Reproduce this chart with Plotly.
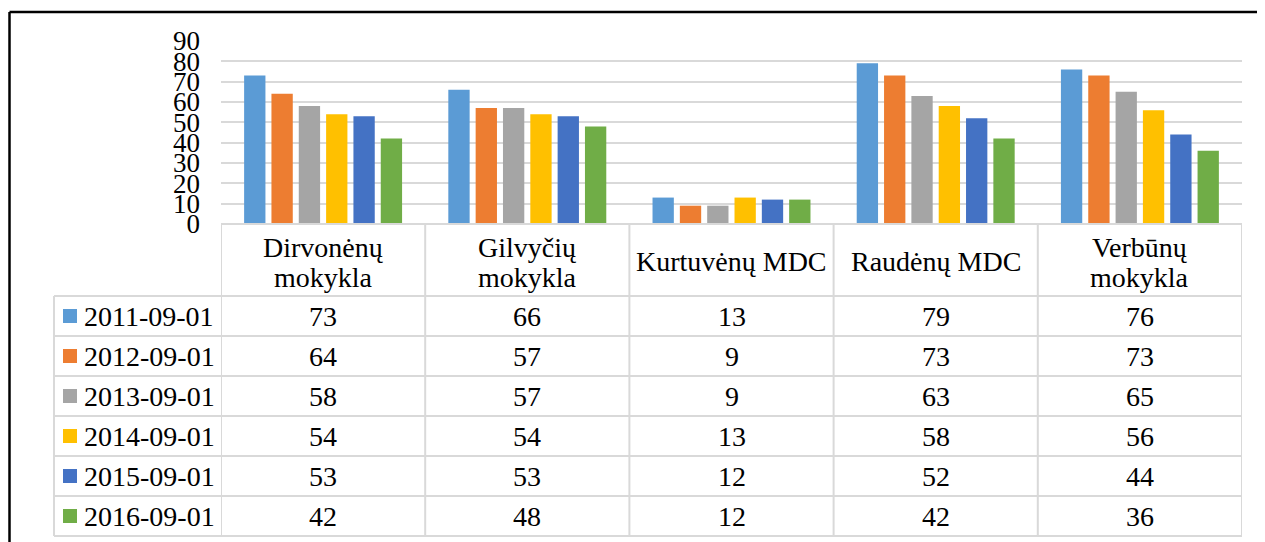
import plotly.graph_objects as go

W, H = 1265, 542

categories = ["Dirvonėnų mokykla", "Gilvyčių mokykla", "Kurtuvėnų MDC", "Raudėnų MDC", "Verbūnų mokykla"]
header_labels = ["Dirvonėnų<br>mokykla", "Gilvyčių<br>mokykla", "Kurtuvėnų MDC", "Raudėnų MDC", "Verbūnų<br>mokykla"]
series_names = ["2011-09-01", "2012-09-01", "2013-09-01", "2014-09-01", "2015-09-01", "2016-09-01"]
v2011 = [73, 66, 13, 79, 76]
v2012 = [64, 57, 9, 73, 73]
v2013 = [58, 57, 9, 63, 65]
v2014 = [54, 54, 13, 58, 56]
v2015 = [53, 53, 12, 52, 44]
v2016 = [42, 48, 12, 42, 36]
series_values = [v2011, v2012, v2013, v2014, v2015, v2016]
colors = ["#5B9BD5", "#ED7D31", "#A5A5A5", "#FFC000", "#4472C4", "#70AD47"]
y_ticks = [0, 10, 20, 30, 40, 50, 60, 70, 80, 90]

FONT = "Liberation Serif, Times New Roman, serif"
GRID = "#d9d9d9"
OFF = 8  # page body margin


def px(x):
    return (x - OFF) / W


def py(y):
    return 1 - (y - OFF) / H


# layout geometry (screen pixels)
PLOT_L, PLOT_R = 221, 1242
PLOT_T, PLOT_B = 41, 224
LEG_L = 54
HEADER_B = 296
ROW_H = 40

fig = go.Figure()
for name, vals, col in zip(series_names, series_values, colors):
    fig.add_trace(go.Bar(
        x=categories, y=vals, name=name,
        marker=dict(color=col, line=dict(width=0)),
        showlegend=False,
    ))

shapes = []
annotations = []

# outer black frame (left + top visible)
shapes.append(dict(type="line", xref="paper", yref="paper",
                   x0=px(9.5), x1=1.0, y0=py(12), y1=py(12),
                   line=dict(color="black", width=2.5), layer="above"))
shapes.append(dict(type="line", xref="paper", yref="paper",
                   x0=px(9.5), x1=px(9.5), y0=0.0, y1=py(12),
                   line=dict(color="black", width=2.5), layer="above"))

# table horizontal lines
shapes.append(dict(type="line", xref="paper", yref="paper",
                   x0=px(PLOT_L), x1=px(PLOT_R), y0=py(PLOT_B), y1=py(PLOT_B),
                   line=dict(color=GRID, width=2)))
n_rows = len(series_names)
for i in range(n_rows + 1):
    y = HEADER_B + i * ROW_H
    shapes.append(dict(type="line", xref="paper", yref="paper",
                       x0=px(LEG_L), x1=px(PLOT_R), y0=py(y), y1=py(y),
                       line=dict(color=GRID, width=2)))
table_bottom = HEADER_B + n_rows * ROW_H
# vertical lines
shapes.append(dict(type="line", xref="paper", yref="paper",
                   x0=px(LEG_L), x1=px(LEG_L), y0=py(HEADER_B), y1=py(table_bottom),
                   line=dict(color=GRID, width=2)))
for k in range(len(categories) + 1):
    shapes.append(dict(type="line", xref="x", yref="paper",
                       x0=k - 0.5, x1=k - 0.5, y0=py(PLOT_B), y1=py(table_bottom),
                       line=dict(color=GRID, width=2)))

# header labels
for cat, lab in zip(categories, header_labels):
    lines = lab.split("<br>")
    if len(lines) == 1:
        annotations.append(dict(xref="x", yref="paper", x=cat, y=py(261),
                                text=lines[0], showarrow=False,
                                xanchor="center", yanchor="middle",
                                font=dict(family=FONT, size=28, color="black")))
    else:
        for j, ln in enumerate(lines):
            annotations.append(dict(xref="x", yref="paper", x=cat, y=py(247 + j * 30),
                                    text=ln, showarrow=False,
                                    xanchor="center", yanchor="middle",
                                    font=dict(family=FONT, size=28, color="black")))

# rows: legend key + values
for i, (name, vals, col) in enumerate(zip(series_names, series_values, colors)):
    yc = HEADER_B + i * ROW_H + ROW_H / 2
    shapes.append(dict(type="rect", xref="paper", yref="paper",
                       x0=px(63), x1=px(77), y0=py(yc + 7), y1=py(yc - 7),
                       fillcolor=col, line=dict(width=0)))
    annotations.append(dict(xref="paper", yref="paper", x=px(82), y=py(yc),
                            text=name, showarrow=False,
                            xanchor="left", yanchor="middle",
                            font=dict(family=FONT, size=28, color="black")))
    for cat, v in zip(categories, vals):
        annotations.append(dict(xref="x", yref="paper", x=cat, y=py(yc),
                                text=str(v), showarrow=False,
                                xanchor="center", yanchor="middle",
                                font=dict(family=FONT, size=28, color="black")))

fig.update_layout(
    template="none",
    width=W, height=H,
    margin=dict(l=0, r=0, t=0, b=0, pad=0),
    paper_bgcolor="white", plot_bgcolor="white",
    barmode="group", bargap=0.197, bargroupgap=0.22,
    shapes=shapes, annotations=annotations,
    showlegend=False,
    xaxis=dict(domain=[px(PLOT_L), px(PLOT_R)], type="category",
               range=[-0.5, len(categories) - 0.5], automargin=False,
               showticklabels=False, showgrid=False, zeroline=False,
               showline=False, ticks=""),
    yaxis=dict(domain=[py(PLOT_B), py(PLOT_T)], range=[0, 90], automargin=False,
               tickvals=y_ticks, showgrid=True, gridcolor=GRID, gridwidth=2,
               zeroline=False, showline=False, ticks="",
               ticklabelstandoff=20,
               tickfont=dict(family=FONT, size=27, color="black")),
)

fig.write_html("out.html")
